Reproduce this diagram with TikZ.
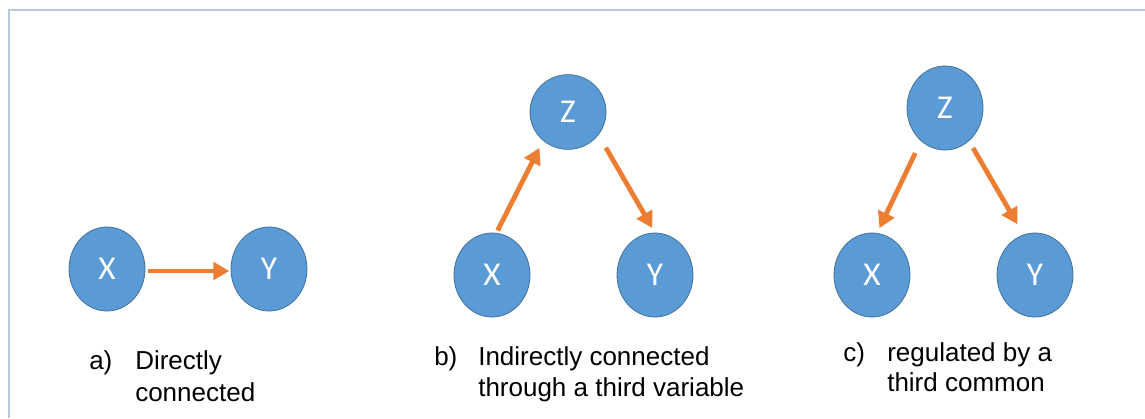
\documentclass[tikz,border=0pt]{standalone}
\usepackage{fontspec}
\setmainfont{Liberation Sans}
\newfontfamily\nodefont{Carlito}
\usetikzlibrary{arrows.meta,shapes.geometric}
\definecolor{nodefill}{HTML}{5B9BD5}
\definecolor{nodeedge}{HTML}{41719C}
\definecolor{arroworange}{HTML}{ED7D31}
\definecolor{framecol}{HTML}{B7CADD}
\begin{document}
\begin{tikzpicture}[x=0.75pt,y=-0.75pt,
  var/.style={ellipse, draw=nodeedge, line width=0.6pt, fill=nodefill, inner sep=0pt,
    minimum width=57pt, minimum height=63pt, text=white, font=\nodefont\fontsize{25}{25}\selectfont},
  link/.style={draw=arroworange, line width=3.6pt, -{Triangle[length=12pt,width=13pt]}},
  captext/.style={anchor=base west, inner sep=0pt, font=\fontsize{19.5}{24}\selectfont}]
\useasboundingbox (0,0) rectangle (1145,418);
\fill[white] (0,0) rectangle (1145,418);
\draw[framecol, line width=1.2pt] (9,418) -- (9,10) -- (1145,10);

% a)
\node[var] (aX) at (107,269) {X};
\node[var] (aY) at (269,269) {Y};
\draw[link, shorten <=2pt, shorten >=1pt] (aX.-3) -- (aY.183);
\node[captext] (aL) at (89,369) {a)};
\node[captext] (aT1) at (135,369) {Directly};
\node[captext] (aT2) at (135,401) {connected};

% b)
\node[var, minimum height=56pt] (bZ) at (568,112) {Z};
\node[var] (bX) at (492,275) {X};
\node[var] (bY) at (655,275) {Y};
\draw[link, shorten <=2pt, shorten >=6pt] (bX.84) -- (bZ.229);
\draw[link, shorten <=11pt, shorten >=4pt] (bZ.-37) -- (bY.90);
\node[captext] (bL) at (434,365) {b)};
\node[captext] (bT1) at (478,365) {Indirectly connected};
\node[captext] (bT2) at (478,396) {through a third variable};

% c)
\node[var] (cZ) at (945,108) {Z};
\node[var] (cX) at (872,275) {X};
\node[var] (cY) at (1035,275) {Y};
\draw[link, shorten <=10pt, shorten >=4pt] (cZ.234) -- (cX.83);
\draw[link, shorten <=6pt, shorten >=9pt] (cZ.-54) -- (cY.106);
\node[captext] (cL) at (843,361) {c)};
\node[captext] (cT1) at (887,361) {regulated by a};
\node[captext] (cT2) at (887,391) {third common};
\end{tikzpicture}
\end{document}
